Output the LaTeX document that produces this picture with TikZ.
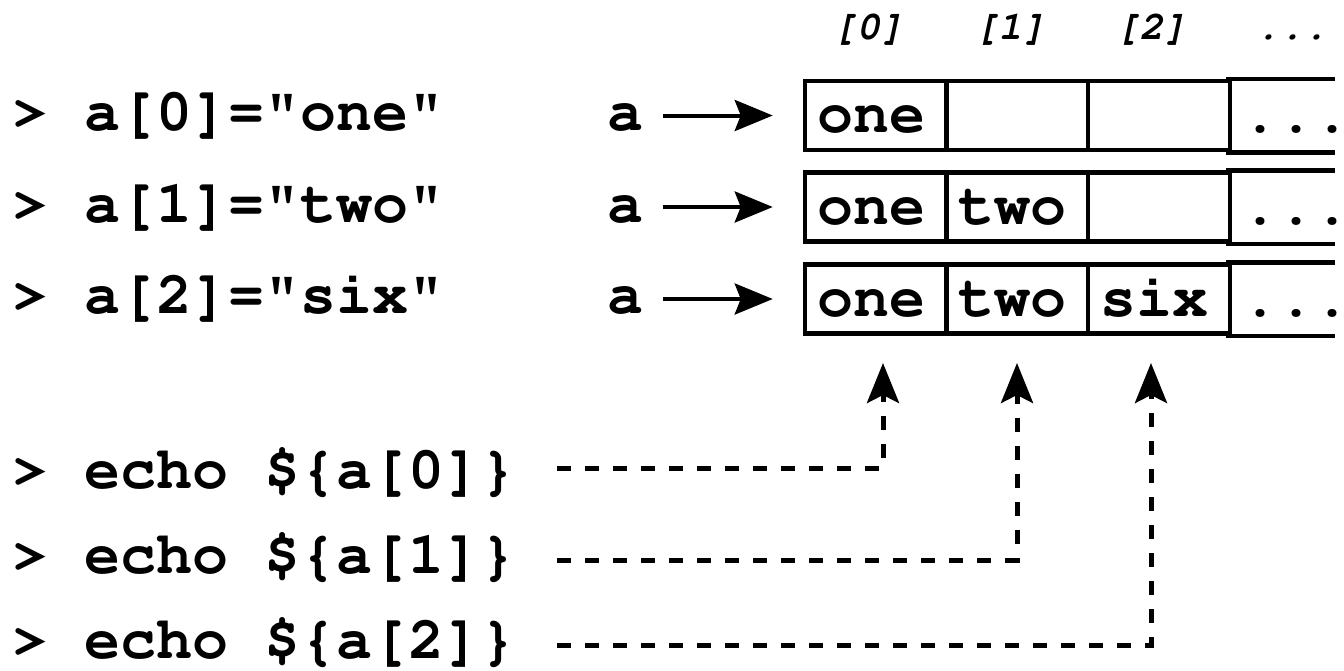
\documentclass[tikz,border=0pt]{standalone}
\usepackage[T1]{fontenc}
\renewcommand\ttdefault{pcr}
\usetikzlibrary{arrows.meta}
\begin{document}
\begin{tikzpicture}[x=1pt,y=-1pt,
  code/.style={font=\ttfamily\bfseries\fontsize{60}{72}\selectfont, inner sep=0pt, anchor=base west},
  avar/.style={font=\ttfamily\bfseries\fontsize{60}{72}\selectfont, inner sep=0pt, anchor=base},
  idx/.style={font=\ttfamily\bfseries\slshape\fontsize{40}{48}\selectfont, inner sep=0pt, anchor=base},
  cell/.style={draw, line width=4.5pt, minimum width=142pt, inner xsep=0pt, inner ysep=0pt,
    text height=51.5pt, text depth=17.5pt, font=\ttfamily\bfseries\fontsize{60}{72}\selectfont,
    execute at end node={\hspace*{10pt}}},
  opencell/.style={cell, draw=none},
  edge/.style={line width=4.5pt, line cap=rect},
  ptr/.style={line width=4pt, -{Stealth[length=38pt, width=31pt, inset=6pt]}, shorten <=20pt, shorten >=30pt},
  look/.style={line width=5pt, dash pattern=on 14pt off 14pt, -{Stealth[length=40pt, width=32pt, inset=8pt]}}
]
\useasboundingbox (0,0) rectangle (1344,670);

% index labels
\node[idx] (i0) at (868,39) {[0]};
\node[idx] (i1) at (1010,39) {[1]};
\node[idx] (i2) at (1151,39) {[2]};
\node[idx] (i3) at (1292,39) {...};

% assignment commands
\node[code] (s0) at (12,130) {> a[0]="one"};
\node[code] (s1) at (12,222) {> a[1]="two"};
\node[code] (s2) at (12,313) {> a[2]="six"};

% variable names
\node[avar] (a0) at (625,130) {a};
\node[avar] (a1) at (625,222) {a};
\node[avar] (a2) at (625,313) {a};

% array rows
\node[cell] (c00) at (876,115.5) {one};
\node[cell] (c01) at (1017,115.5) {};
\node[cell] (c02) at (1159,115.5) {};
\node[opencell] (c03) at (1301,115.5) {...};

\node[cell] (c10) at (876,207) {one};
\node[cell] (c11) at (1017,207) {two};
\node[cell] (c12) at (1159,207) {};
\node[opencell] (c13) at (1301,207) {...};

\node[cell] (c20) at (876,299) {one};
\node[cell] (c21) at (1017,299) {two};
\node[cell] (c22) at (1159,299) {six};
\node[opencell] (c23) at (1301,299) {...};

\coordinate (rend) at (1333,0);
\foreach \r in {0,1,2}{
  \draw[edge] (c\r3.north west) -- (c\r3.north west -| rend);
  \draw[edge] (c\r3.south west) -- (c\r3.south west -| rend);
}

% pointers
\draw[ptr] (a0.east |- c00.west) -- (c00.west);
\draw[ptr] (a1.east |- c10.west) -- (c10.west);
\draw[ptr] (a2.east |- c20.west) -- (c20.west);

% echo commands
\node[code] (e0) at (12,488) {> echo \$\{a[0]\}};
\node[code] (e1) at (12,573) {> echo \$\{a[1]\}};
\node[code] (e2) at (12,658) {> echo \$\{a[2]\}};

\coordinate (k0) at (883,468);
\coordinate (k1) at (1017,560);
\coordinate (k2) at (1151,645);
\coordinate (t0) at (883,363);
\coordinate (t1) at (1017,363);
\coordinate (t2) at (1151,363);

\draw[look, shorten <=41pt] (e0.east |- k0) -- (k0) -- (t0);
\draw[look, shorten <=41pt] (e1.east |- k1) -- (k1) -- (t1);
\draw[look, shorten <=41pt] (e2.east |- k2) -- (k2) -- (t2);
\end{tikzpicture}
\end{document}
